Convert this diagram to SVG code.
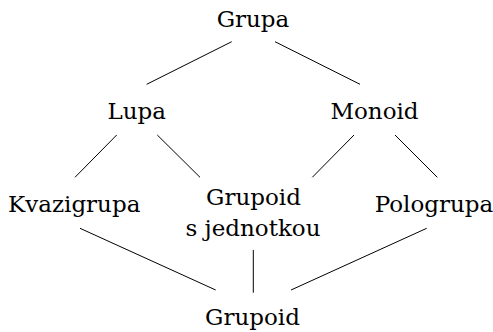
<svg xmlns="http://www.w3.org/2000/svg" width="493" height="332" viewBox="0 0 493 332">
<style>
text{font-family:'DejaVu Serif',serif;font-size:23px;fill:#000;text-anchor:middle}
.c line{stroke:#000;stroke-width:1}
</style>
<rect width="493" height="332" fill="#fff"/>
<g class="c" id="connectors">
<line x1="231.7" y1="41.7" x2="146.7" y2="84.3"/>
<line x1="275" y1="41.7" x2="360" y2="84.3"/>
<line x1="116.7" y1="135" x2="75" y2="177.3"/>
<line x1="157.3" y1="135" x2="200" y2="177.3"/>
<line x1="354" y1="135" x2="312.3" y2="177.3"/>
<line x1="395" y1="135" x2="437.3" y2="177.3"/>
<line x1="80" y1="228.3" x2="215.7" y2="290"/>
<line x1="253.3" y1="250" x2="253.3" y2="292.7"/>
<line x1="426.7" y1="228.3" x2="291" y2="290"/>
</g>
<g id="grupa"><text x="253" y="26.7">Grupa</text></g>
<g id="lupa"><text x="136.7" y="119">Lupa</text></g>
<g id="monoid"><text x="374.5" y="119">Monoid</text></g>
<g id="kvazigrupa"><text x="74.2" y="212.3">Kvazigrupa</text></g>
<g id="grupoid-s-jednotkou"><text x="253.5" y="204.5">Grupoid</text><text x="253" y="235.5">s jednotkou</text></g>
<g id="pologrupa"><text x="434" y="212.3">Pologrupa</text></g>
<g id="grupoid"><text x="252.5" y="325">Grupoid</text></g>
</svg>
